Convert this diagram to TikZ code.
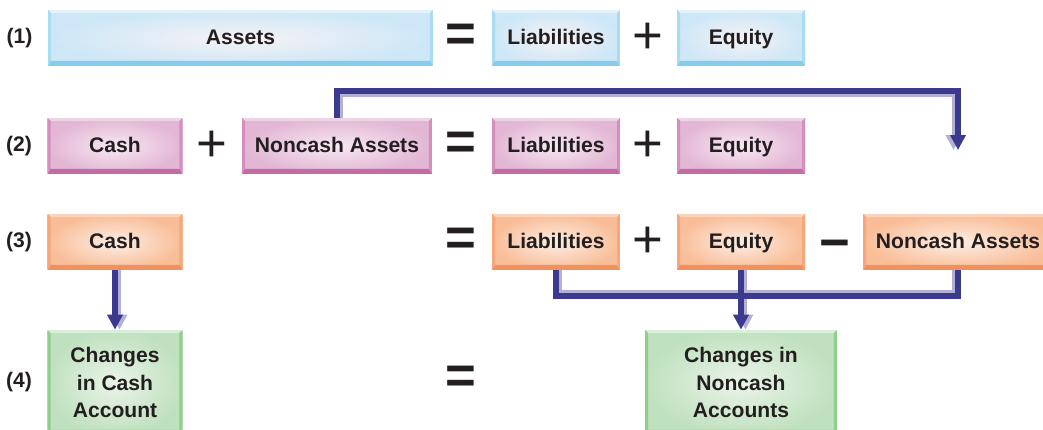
\documentclass[tikz,border=0pt]{standalone}
\usepackage{fontspec}
\setmainfont{Liberation Sans}
\usetikzlibrary{positioning,calc,arrows.meta}

% box colours: Out/In = shading, Edge = bottom band, Side = left/right, Top = top band
\definecolor{blOut}{HTML}{CDE7F7}
\definecolor{blIn}{HTML}{F6F2F5}
\definecolor{blEdge}{HTML}{86CBEE}
\definecolor{blSide}{HTML}{A9DBF3}
\definecolor{blTop}{HTML}{E2F1FA}
\definecolor{pkOut}{HTML}{E2B6D4}
\definecolor{pkIn}{HTML}{F7E8F2}
\definecolor{pkEdge}{HTML}{C46BA3}
\definecolor{pkSide}{HTML}{D58FBF}
\definecolor{pkTop}{HTML}{EDD3E6}
\definecolor{orOut}{HTML}{F9BD98}
\definecolor{orIn}{HTML}{FDEEE4}
\definecolor{orEdge}{HTML}{F3915E}
\definecolor{orSide}{HTML}{F6A77B}
\definecolor{orTop}{HTML}{FBD3BB}
\definecolor{grOut}{HTML}{C0E1BF}
\definecolor{grIn}{HTML}{EAF4E8}
\definecolor{grEdge}{HTML}{7CC57A}
\definecolor{grSide}{HTML}{8FCF8C}
\definecolor{grTop}{HTML}{D9EED7}
\definecolor{linkNavy}{HTML}{3B3A8F}
\definecolor{linkLav}{HTML}{B3B0D6}
\definecolor{inkBlack}{HTML}{231F20}

\tikzset{
  acct/.style={draw=none, inner color=#1In, outer color=#1Out, inner sep=0pt,
    font=\bfseries\fontsize{12}{15.5}\selectfont, text=inkBlack, align=center,
    path picture={
      \fill[#1Top] (path picture bounding box.north west) -- (path picture bounding box.north east)
        -- ([shift={(-0.06cm,-0.06cm)}]path picture bounding box.north east)
        -- ([shift={(0.06cm,-0.06cm)}]path picture bounding box.north west) -- cycle;
      \fill[#1Side] (path picture bounding box.north west) -- ([shift={(0.06cm,-0.06cm)}]path picture bounding box.north west)
        -- ([shift={(0.06cm,0.1cm)}]path picture bounding box.south west) -- (path picture bounding box.south west) -- cycle;
      \fill[#1Side] (path picture bounding box.north east) -- ([shift={(-0.06cm,-0.06cm)}]path picture bounding box.north east)
        -- ([shift={(-0.06cm,0.1cm)}]path picture bounding box.south east) -- (path picture bounding box.south east) -- cycle;
      \fill[#1Edge] (path picture bounding box.south west) -- ([shift={(0.06cm,0.1cm)}]path picture bounding box.south west)
        -- ([shift={(-0.06cm,0.1cm)}]path picture bounding box.south east) -- (path picture bounding box.south east) -- cycle;
    }},
  oneline/.style={text height=0.72em, text depth=0pt, minimum height=1.12cm},
  rowlbl/.style={font=\bfseries\fontsize{12}{15.5}\selectfont, text=inkBlack, inner sep=0pt},
  oper/.style={font=\fontsize{30}{30}\selectfont, text=inkBlack, inner sep=0pt},
  connector/.style={line width=0.12cm, draw=linkNavy},
  connshade/.style={line width=0.06cm, draw=linkLav},
  linkarrow/.style={-{Triangle[width=0.3cm,length=0.3cm]}}
}

\begin{document}
\begin{tikzpicture}[x=0.02cm, y=-0.02cm]
\useasboundingbox (0,0) rectangle (1043,429);

% (1) basic equation
\node[acct=bl, oneline, minimum width=7.7cm] (assets1) at (240.5,38) {Assets};
\node[acct=bl, oneline, minimum width=2.56cm] (liab1) at (556,38) {Liabilities};
\node[acct=bl, oneline, minimum width=2.56cm] (equity1) at (741,38) {Equity};

% (2) assets split up
\node[acct=pk, oneline, minimum width=2.7cm] (cash2) at (115,146) {Cash};
\node[acct=pk, oneline, minimum width=3.8cm] (noncash2) at (337,146) {Noncash Assets};
\node[acct=pk, oneline, minimum width=2.56cm] (liab2) at (556,146) {Liabilities};
\node[acct=pk, oneline, minimum width=2.56cm] (equity2) at (741,146) {Equity};

% (3) noncash assets moved over
\node[acct=or, oneline, minimum width=2.7cm] (cash3) at (115,242) {Cash};
\node[acct=or, oneline, minimum width=2.56cm] (liab3) at (556,242) {Liabilities};
\node[acct=or, oneline, minimum width=2.56cm] (equity3) at (741,242) {Equity};
\node[acct=or, oneline, minimum width=3.8cm] (noncash3) at (958,242) {Noncash Assets};

% (4) changes
\node[acct=gr, minimum width=2.7cm, minimum height=2.1cm] (chgcash) at (115,382.5) {Changes\\in Cash\\Account};
\node[acct=gr, minimum width=3.84cm, minimum height=2.1cm] (chgnon) at (741,382.5) {Changes in\\Noncash\\Accounts};

% row numbers
\node[rowlbl, left=0.3cm of assets1] (lbl1) {(1)};
\node[rowlbl, left=0.3cm of cash2] (lbl2) {(2)};
\node[rowlbl, left=0.3cm of cash3] (lbl3) {(3)};
\node[rowlbl, left=0.3cm of chgcash] (lbl4) {(4)};

% operators
\foreach \n/\g/\x/\y in {opA/{\bfseries=}/461/38, opB/+/648/38,
    opC/+/212/146, opD/{\bfseries=}/461/146, opE/+/648/146,
    opF/{\bfseries=}/461/242, opG/+/648/242, opH/{\bfseries−}/835/250,
    opI/{\bfseries=}/461/380}
  \node[oper] (\n) at (\x,\y) {\g};

% connectors (light shade first, then the dark line)
\coordinate (tip1) at (958,150);
\draw[connshade, linkarrow] ($(noncash2.north)+(4.5,0)$) -- ++(0,-22) -| ($(tip1)+(-4.5,0)$);
\draw[connector, linkarrow] (noncash2.north) -- ++(0,-26.5) -| (tip1);

\draw[connshade, linkarrow] ($(cash3.south)+(4.5,0)$) -- ($(chgcash.north)+(4.5,0)$);
\draw[connector, linkarrow] (cash3.south) -- (chgcash.north);

\draw[connshade] ($(liab3.south)+(4.5,0)$) -- ++(0,21.5) -| ($(noncash3.south)+(-4.5,0)$);
\draw[connshade, linkarrow] ($(equity3.south)+(4.5,0)$) -- ($(chgnon.north)+(4.5,0)$);
\draw[connector] (liab3.south) -- ++(0,26) -| (noncash3.south);
\draw[connector, linkarrow] (equity3.south) -- (chgnon.north);

\end{tikzpicture}
\end{document}
